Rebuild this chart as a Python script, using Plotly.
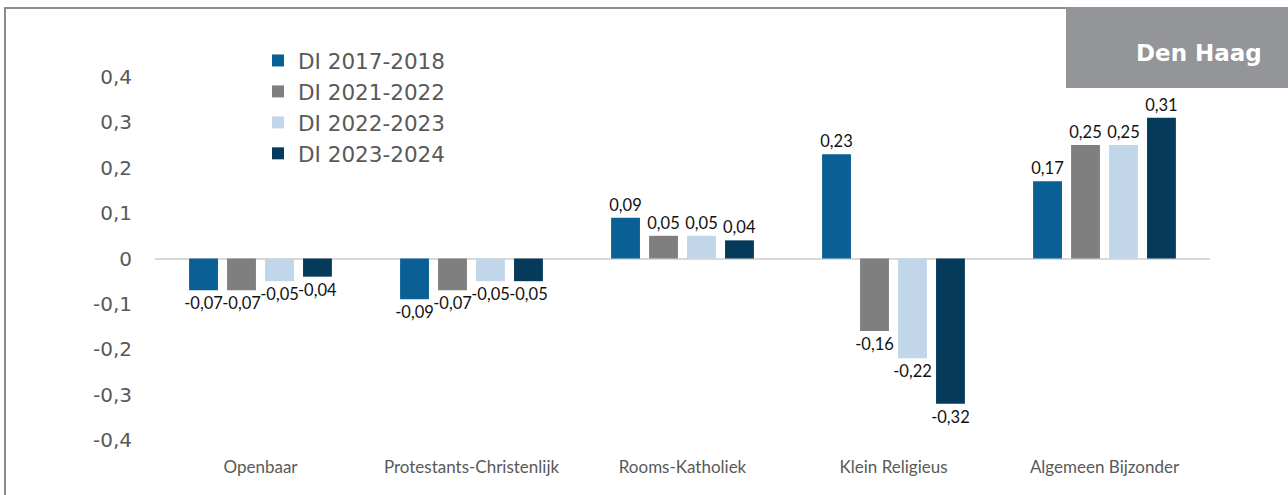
import plotly.graph_objects as go

# Categories and series values (DI per school denomination)
categories = ["Openbaar", "Protestants-Christenlijk", "Rooms-Katholiek",
              "Klein Religieus", "Algemeen Bijzonder"]
series_names = ["DI 2017-2018", "DI 2021-2022", "DI 2022-2023", "DI 2023-2024"]
di_2017_2018 = [-0.07, -0.09, 0.09, 0.23, 0.17]
di_2021_2022 = [-0.07, -0.07, 0.05, -0.16, 0.25]
di_2022_2023 = [-0.05, -0.05, 0.05, -0.22, 0.25]
di_2023_2024 = [-0.04, -0.05, 0.04, -0.32, 0.31]
y_ticks = [-0.4, -0.3, -0.2, -0.1, 0, 0.1, 0.2, 0.3, 0.4]
y_tick_labels = ["-0,4", "-0,3", "-0,2", "-0,1", "0", "0,1", "0,2", "0,3", "0,4"]
region_title = "Den Haag"

series_values = [di_2017_2018, di_2021_2022, di_2022_2023, di_2023_2024]
colors = ["#0a5f95", "#7f7f7f", "#c2d6ea", "#063a5a"]

W, H = 1288, 495
ML, MR, MT, MB = 155, 78, 77, 55
PW, PH = W - ML - MR, H - MT - MB


def px_x(x):
    return (x - ML) / PW


def px_y(y):
    return (H - MB - y) / PH


def fmt(v):
    return f"{v:.2f}".replace(".", ",")


fig = go.Figure()
for name, vals, col in zip(series_names, series_values, colors):
    fig.add_trace(go.Bar(
        x=categories, y=vals, name=name,
        marker=dict(color=col, line=dict(width=0)),
        text=[fmt(v) for v in vals],
        textposition="outside",
        constraintext="none",
        cliponaxis=False,
        textfont=dict(family="Lato", size=16.5, color="#111111"),
    ))

# frame lines on the left and top edges
fig.add_shape(type="line", xref="paper", yref="paper",
              x0=px_x(5), x1=px_x(5), y0=px_y(8), y1=px_y(H + 5),
              line=dict(color="#8c8c8c", width=2), layer="above")
fig.add_shape(type="line", xref="paper", yref="paper",
              x0=px_x(4), x1=px_x(1070), y0=px_y(8), y1=px_y(8),
              line=dict(color="#8c8c8c", width=2), layer="above")

# region title box
fig.add_shape(type="rect", xref="paper", yref="paper",
              x0=px_x(1066), x1=px_x(W + 5), y0=px_y(88), y1=px_y(7),
              fillcolor="#939598", line=dict(width=0), layer="above")
fig.add_annotation(xref="paper", yref="paper", x=px_x(1264), y=px_y(53),
                   xanchor="right", yanchor="middle", showarrow=False,
                   text=f"<b>{region_title}</b>",
                   font=dict(family="DejaVu Sans", size=23, color="white"))

fig.update_layout(
    width=W, height=H,
    margin=dict(l=ML, r=MR, t=MT, b=MB),
    paper_bgcolor="white", plot_bgcolor="white",
    barmode="group", bargap=0.28, bargroupgap=0.24,
    separators=",.",
    showlegend=True,
    legend=dict(x=px_x(258), y=px_y(40), xanchor="left", yanchor="top",
                font=dict(family="DejaVu Sans", size=21.5, color="#595959"),
                bgcolor="rgba(0,0,0,0)", traceorder="normal",
                itemclick=False),
    xaxis=dict(showgrid=False, showline=False, zeroline=False,
               ticks="", ticklabelstandoff=15,
               tickfont=dict(family="Lato", size=17, color="#595959")),
    yaxis=dict(range=[-0.4, 0.4], tickvals=y_ticks, ticktext=y_tick_labels,
               showgrid=False, showline=False,
               zeroline=True, zerolinecolor="#d9d9d9", zerolinewidth=2,
               ticks="", ticklabelstandoff=22,
               tickfont=dict(family="DejaVu Sans", size=20, color="#595959")),
)

fig.write_html("out.html")
